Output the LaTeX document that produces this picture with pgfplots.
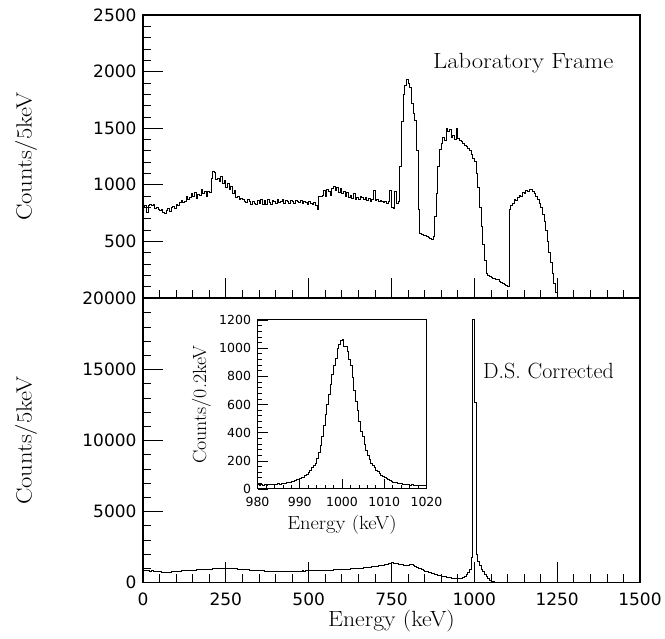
\documentclass[border=0pt]{standalone}
\usepackage{fontspec}
\usepackage{graphicx}
\usepackage{pgfplots}
\usepackage{pgfplotstable}
\pgfplotsset{compat=1.18}

\newfontfamily\tickfam{DejaVu Sans}
\newcommand\tickfont{\fontsize{17}{20}\selectfont\tickfam}
\newcommand\insettickfont{\fontsize{12.5}{15}\selectfont\tickfam}
\newcommand\labfont{\fontsize{22}{26}\selectfont\rmfamily}
\newcommand\insetlabfont{\fontsize{19}{23}\selectfont\rmfamily}
\newcommand\wide[2]{\scalebox{#1}[1]{#2}}

\pgfplotstableread{
x y
0 810
5 820
10 760
15 815
20 830
25 815
30 825
35 790
40 800
45 780
50 770
55 785
60 760
65 750
70 770
75 790
80 765
85 800
90 810
95 795
100 830
105 820
110 845
115 860
120 845
125 855
130 900
135 870
140 885
145 920
150 900
155 930
160 880
165 915
170 905
175 960
180 925
185 940
190 900
195 945
200 930
205 1060
210 1120
215 1110
220 1050
225 1060
230 1030
235 1070
240 1010
245 1040
250 980
255 1010
260 960
265 990
270 920
275 950
280 890
285 900
290 870
295 880
300 870
305 855
310 845
315 875
320 850
325 830
330 855
335 835
340 825
345 860
350 840
355 870
360 830
365 865
370 825
375 875
380 845
385 830
390 865
395 850
400 835
405 870
410 845
415 855
420 870
425 835
430 865
435 850
440 840
445 860
450 855
455 840
460 865
465 850
470 845
475 860
480 835
485 850
490 845
495 830
500 855
505 840
510 830
515 845
520 820
525 780
530 900
535 895
540 910
545 950
550 900
555 960
560 940
565 905
570 970
575 985
580 950
585 975
590 930
595 965
600 920
605 940
610 900
615 935
620 890
625 910
630 880
635 920
640 870
645 890
650 875
655 900
660 885
665 870
670 890
675 860
680 880
685 855
690 870
695 950
700 860
705 870
710 855
715 865
720 850
725 845
730 855
735 840
740 850
745 950
750 800
755 790
760 940
765 840
770 850
775 1160
780 1560
785 1800
790 1880
795 1930
800 1900
805 1860
810 1720
815 1630
820 1570
825 1300
830 780
835 570
840 560
845 550
850 555
855 540
860 535
865 525
870 520
875 540
880 720
885 920
890 1160
895 1310
900 1370
905 1420
910 1390
915 1500
920 1470
925 1490
930 1420
935 1440
940 1400
945 1500
950 1410
955 1395
960 1380
965 1370
970 1350
975 1340
980 1320
985 1300
990 1270
995 1235
1000 1210
1005 1100
1010 980
1015 800
1020 630
1025 470
1030 330
1035 220
1040 200
1045 190
1050 182
1055 176
1060 172
1065 168
1070 160
1075 150
1080 140
1085 128
1090 118
1095 108
1100 100
1105 780
1110 820
1115 840
1120 870
1125 860
1130 890
1135 910
1140 900
1145 930
1150 920
1155 950
1160 940
1165 960
1170 955
1175 945
1180 920
1185 900
1190 870
1195 840
1200 800
1205 740
1210 680
1215 600
1220 500
1225 400
1230 310
1235 220
1240 130
1245 50
1250 0
1255 0
}\toptable

\pgfplotstableread{
x y
0 830
5 820
10 835
15 825
20 815
25 820
30 800
35 790
40 775
45 760
50 750
55 740
60 735
65 730
70 740
75 735
80 745
85 760
90 770
95 785
100 800
105 805
110 815
115 820
120 830
125 835
130 840
135 850
140 860
145 865
150 870
155 880
160 890
165 895
170 905
175 915
180 920
185 930
190 935
195 945
200 950
205 955
210 965
215 970
220 980
225 985
230 1000
235 990
240 995
245 990
250 985
255 975
260 980
265 1000
270 970
275 960
280 990
285 950
290 935
295 940
300 925
305 910
310 900
315 890
320 875
325 870
330 860
335 855
340 845
345 840
350 830
355 825
360 820
365 810
370 815
375 805
380 800
385 795
390 790
395 785
400 790
405 780
410 785
415 775
420 780
425 785
430 775
435 790
440 780
445 795
450 800
455 790
460 805
465 810
470 800
475 815
480 820
485 810
490 825
495 830
500 825
505 835
510 830
515 840
520 845
525 840
530 850
535 855
540 850
545 860
550 865
555 870
560 875
565 880
570 885
575 890
580 895
585 900
590 905
595 915
600 920
605 930
610 935
615 945
620 950
625 960
630 970
635 980
640 985
645 995
650 1005
655 1015
660 1020
665 1035
670 1050
675 1060
680 1075
685 1090
690 1100
695 1120
700 1135
705 1150
710 1170
715 1190
720 1210
725 1230
730 1260
735 1290
740 1320
745 1360
750 1390
755 1370
760 1340
765 1310
770 1290
775 1270
780 1250
785 1230
790 1220
795 1210
800 1230
805 1250
810 1240
815 1200
820 1140
825 1080
830 1020
835 960
840 900
845 850
850 800
855 760
860 720
865 680
870 640
875 610
880 580
885 550
890 520
895 490
900 460
905 430
910 400
915 375
920 350
925 325
930 305
935 290
940 280
945 270
950 275
955 290
960 320
965 370
970 440
975 540
980 700
985 950
990 1750
995 18550
1000 12650
1005 1950
1010 1500
1015 1200
1020 950
1025 750
1030 550
1035 400
1040 270
1045 170
1050 100
1055 60
1060 30
1065 15
1070 5
1075 0
1500 0
}\bottable

\pgfplotstableread{
x y
980.0 30
980.4 28
980.8 32
981.2 29
981.6 31
982.0 27
982.4 33
982.8 30
983.2 34
983.6 31
984.0 35
984.4 33
984.8 37
985.2 36
985.6 40
986.0 38
986.4 42
986.8 44
987.2 47
987.6 49
988.0 52
988.4 55
988.8 60
989.2 66
989.6 70
990.0 75
990.4 80
990.8 85
991.2 95
991.6 105
992.0 120
992.4 135
992.8 150
993.2 165
993.6 180
994.0 215
994.4 260
994.8 310
995.2 370
995.6 450
996.0 530
996.4 600
996.8 670
997.2 740
997.6 815
998.0 875
998.4 930
998.8 1000
999.2 1030
999.6 1055
1000.0 1065
1000.4 1015
1000.8 1010
1001.2 975
1001.6 920
1002.0 880
1002.4 790
1002.8 700
1003.2 620
1003.6 560
1004.0 480
1004.4 410
1004.8 370
1005.2 320
1005.6 275
1006.0 240
1006.4 210
1006.8 185
1007.2 170
1007.6 150
1008.0 135
1008.4 125
1008.8 110
1009.2 100
1009.6 90
1010.0 82
1010.4 72
1010.8 65
1011.2 58
1011.6 52
1012.0 50
1012.4 47
1012.8 44
1013.2 41
1013.6 39
1014.0 37
1014.4 35
1014.8 33
1015.2 31
1015.6 32
1016.0 29
1016.4 30
1016.8 28
1017.2 29
1017.6 27
1018.0 28
1018.4 26
1018.8 27
1019.2 25
1019.6 26
1020.0 26
}\insettable

\pgfplotsset{
  common/.style={
    scale only axis, width=497pt,
    xmin=0, xmax=1500,
    xtick={0,250,...,1500}, minor x tick num=4,
    tick align=inside, tick pos=left,
    major tick length=20pt, minor tick length=8pt,
    tick style={black, line width=0.7pt},
    axis line style={line width=1.1pt},
    scaled ticks=false,
    /pgf/number format/assume math mode=true,
    /pgf/number format/1000 sep={},
    tick label style={font=\tickfont},
    xticklabel style={yshift=-7pt},
    yticklabel style={xshift=-3pt},
    label style={font=\labfont},
    ylabel style={at={(axis description cs:-0.235,0.5)}, anchor=center},
  },
  hist/.style={const plot, black, line width=0.8pt, mark=none},
}

\begin{document}
\begin{tikzpicture}
\path[use as bounding box] (0,0) rectangle (665pt,639pt);

\begin{axis}[common,
  at={(143pt,341pt)}, anchor=south west, height=283pt,
  ymin=0, ymax=2500,
  ytick={0,500,...,2500}, yticklabels={{},500,1000,1500,2000,2500},
  minor y tick num=4,
  xticklabels={},
  ylabel={\wide{1.12}{Counts/5keV}},
]
\addplot[hist] table[x=x,y=y] {\toptable};
\node[font=\labfont, anchor=base west, inner sep=0pt] at (rel axis cs:0.5835,0.8117) {\wide{1.12}{Laboratory Frame}};
\end{axis}

\begin{axis}[common,
  at={(143pt,56.5pt)}, anchor=south west, height=284pt,
  ymin=0, ymax=20000,
  ytick={0,5000,...,20000},
  minor y tick num=4,
  xlabel={\wide{1.08}{Energy (keV)}},
  xlabel style={at={(axis description cs:0.5,-0.137)}, anchor=center},
  ylabel={\wide{1.12}{Counts/5keV}},
]
\addplot[hist] table[x=x,y=y] {\bottable};
\node[font=\labfont, anchor=base west, inner sep=0pt] at (rel axis cs:0.684,0.719) {D.S. Corrected};
\end{axis}

\begin{axis}[
  scale only axis, width=169pt, height=169pt,
  at={(257.5pt,150pt)}, anchor=south west,
  xmin=980, xmax=1020, ymin=0, ymax=1200,
  xtick={980,990,...,1020}, ytick={0,200,...,1200},
  minor x tick num=4, minor y tick num=4,
  tick align=inside, tick pos=left,
  major tick length=10pt, minor tick length=4pt,
  tick style={black, line width=0.6pt},
  axis line style={line width=1pt},
  axis background/.style={fill=white},
  scaled ticks=false,
  /pgf/number format/assume math mode=true,
  /pgf/number format/1000 sep={},
  tick label style={font=\insettickfont},
  xticklabel style={yshift=-4.5pt},
  yticklabel style={xshift=-3pt},
  label style={font=\insetlabfont},
  xlabel={\wide{1.08}{Energy (keV)}}, ylabel={\wide{1.05}{Counts/0.2keV}},
  xlabel style={at={(axis description cs:0.5,-0.213)}, anchor=center},
  ylabel style={at={(axis description cs:-0.332,0.5)}, anchor=center},
]
\addplot[hist] table[x=x,y=y] {\insettable};
\end{axis}
\end{tikzpicture}
\end{document}
